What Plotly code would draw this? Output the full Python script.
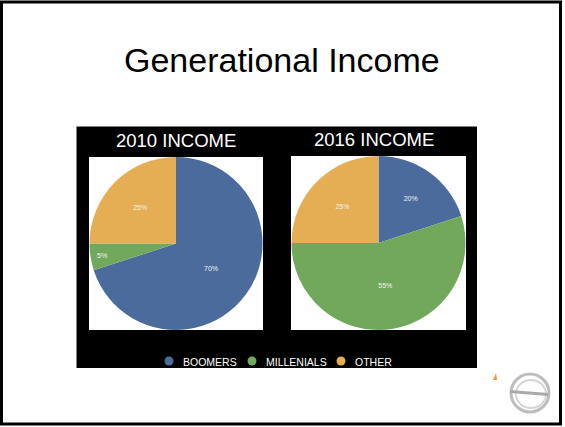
import plotly.graph_objects as go

W, H = 565, 427

categories = ["BOOMERS", "MILLENIALS", "OTHER"]
values_2010 = [70, 5, 25]
values_2016 = [20, 55, 25]
chart_titles = ["2010 INCOME", "2016 INCOME"]
main_title = "Generational Income"
colors = ["#4A6B9C", "#72A85C", "#E5AE54"]

FONT = "Liberation Sans, Arial, Helvetica, sans-serif"


def px(x):
    return x / W


def py(y):
    return 1 - y / H


panels = [(89, 157, 263, 330), (291, 156, 466, 330)]
series = [values_2010, values_2016]

fig = go.Figure()

for (x0, y0, x1, y1), vals in zip(panels, series):
    fig.add_trace(go.Pie(
        labels=categories,
        values=vals,
        marker=dict(colors=colors, line=dict(width=0)),
        sort=False,
        direction="clockwise",
        rotation=0,
        textinfo="percent",
        textposition="inside",
        insidetextorientation="horizontal",
        textfont=dict(family=FONT, size=7, color="#f2f2f2"),
        domain=dict(x=[px(x0), px(x1)], y=[py(y1), py(y0)]),
        showlegend=False,
        hoverinfo="label+percent",
    ))

shapes = []
# slide frame
shapes.append(dict(type="rect", xref="paper", yref="paper",
                   x0=px(1.5), x1=px(560.5), y0=py(2), y1=py(424),
                   line=dict(color="black", width=3), fillcolor="rgba(0,0,0,0)",
                   layer="below"))
# black chart block
shapes.append(dict(type="rect", xref="paper", yref="paper",
                   x0=px(76.5), x1=px(477), y0=py(126.5), y1=py(368),
                   line=dict(width=0), fillcolor="black", layer="below"))
# white panels
for (x0, y0, x1, y1) in panels:
    shapes.append(dict(type="rect", xref="paper", yref="paper",
                       x0=px(x0), x1=px(x1), y0=py(y0), y1=py(y1),
                       line=dict(width=0), fillcolor="white", layer="below"))

# legend (circles + labels)
legend_circle_x = [169, 252, 341]
legend_y = 361
for cx, col in zip(legend_circle_x, colors):
    r = 4.5
    shapes.append(dict(type="circle", xref="paper", yref="paper",
                       x0=px(cx - r), x1=px(cx + r), y0=py(legend_y + r), y1=py(legend_y - r),
                       line=dict(width=0), fillcolor=col, layer="above"))

# logo (decorative)
shapes.append(dict(type="circle", xref="paper", yref="paper",
                   x0=px(511), x1=px(549), y0=py(412), y1=py(374),
                   line=dict(color="#BDBDBD", width=3), fillcolor="rgba(0,0,0,0)"))
shapes.append(dict(type="circle", xref="paper", yref="paper",
                   x0=px(516), x1=px(546), y0=py(408), y1=py(380),
                   line=dict(color="#D6D6D6", width=2), fillcolor="rgba(0,0,0,0)"))
shapes.append(dict(type="path", xref="paper", yref="paper",
                   path=f"M {px(510)} {py(390)} L {px(548)} {py(393)} L {px(548)} {py(396)} L {px(510)} {py(393)} Z",
                   line=dict(width=0), fillcolor="#A9A9A9"))
shapes.append(dict(type="path", xref="paper", yref="paper",
                   path=f"M {px(493)} {py(380)} L {px(496)} {py(373)} L {px(497)} {py(380)} Z",
                   line=dict(width=0), fillcolor="#F39A3A"))

annotations = []
annotations.append(dict(text=main_title, xref="paper", yref="paper",
                        x=px(282), y=py(60), xanchor="center", yanchor="middle",
                        showarrow=False, font=dict(family=FONT, size=34, color="black")))
title_pos = [(176, 141), (373.5, 140)]
for t, (tx, ty) in zip(chart_titles, title_pos):
    annotations.append(dict(text=t, xref="paper", yref="paper",
                            x=px(tx), y=py(ty), xanchor="center", yanchor="middle",
                            showarrow=False, font=dict(family=FONT, size=18.5, color="white")))
for cx, lab in zip(legend_circle_x, categories):
    annotations.append(dict(text=lab, xref="paper", yref="paper",
                            x=px(cx + 12), y=py(legend_y + 0.5), xanchor="left", yanchor="middle",
                            showarrow=False, font=dict(family=FONT, size=10.5, color="white")))

fig.update_layout(
    width=W, height=H,
    margin=dict(l=0, r=0, t=0, b=0),
    paper_bgcolor="white",
    plot_bgcolor="white",
    shapes=shapes,
    annotations=annotations,
    showlegend=False,
)

fig.write_html("out.html")
